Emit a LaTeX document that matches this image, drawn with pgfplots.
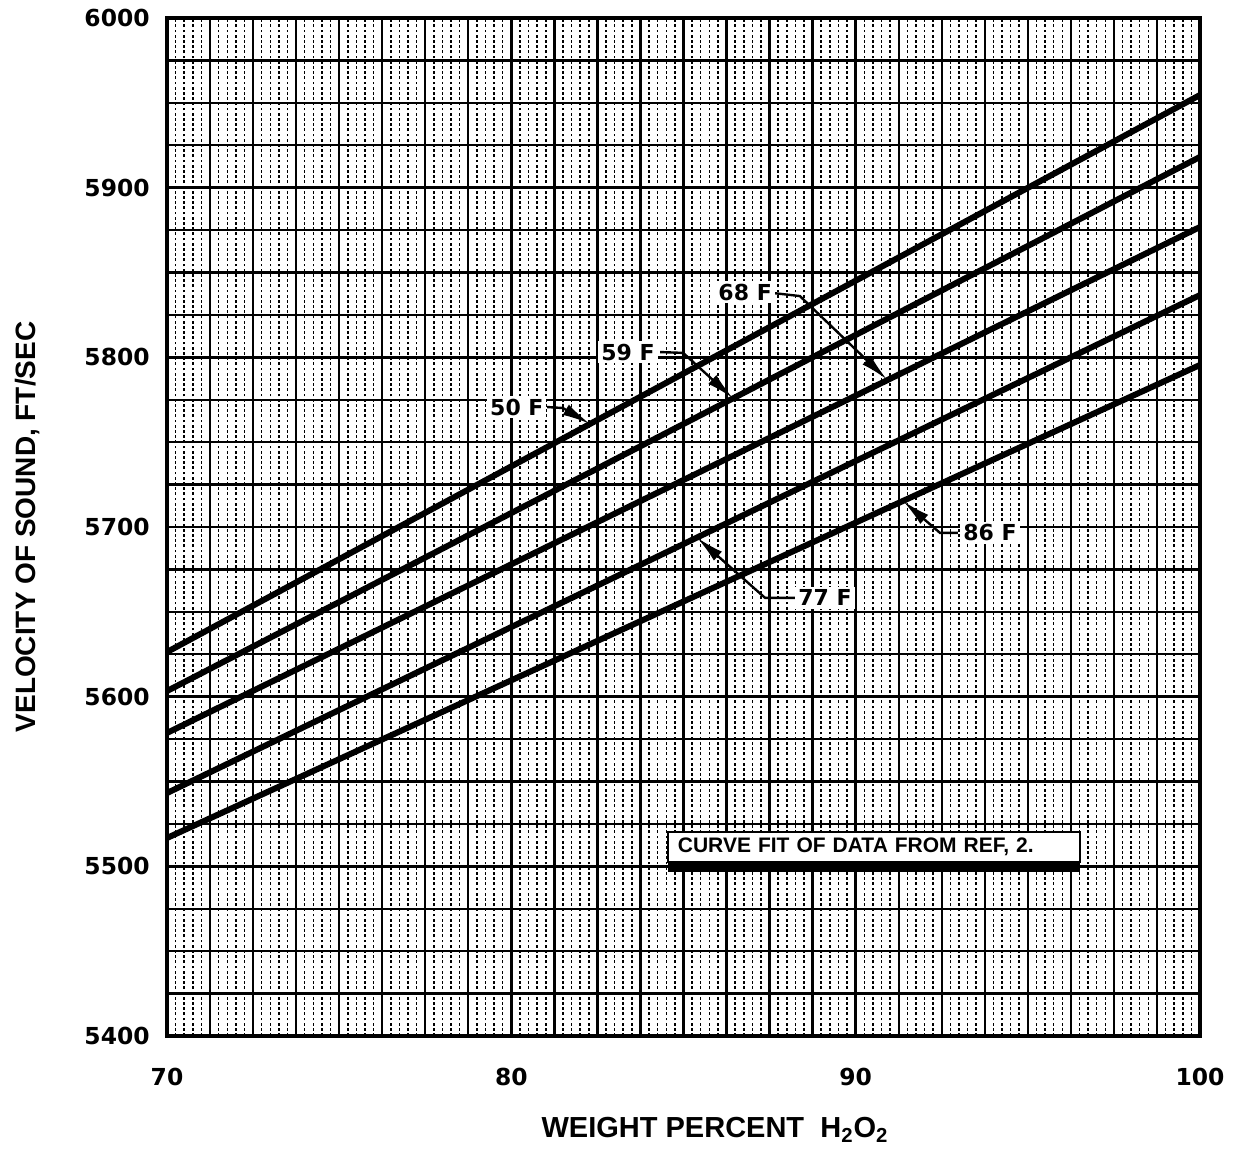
\documentclass[border=0pt]{standalone}
\usepackage{fontspec}
\setmainfont{Liberation Sans}
\newfontfamily\djv{DejaVu Sans}
\usepackage{pgfplots}
\usepackage{pgfplotstable}
\pgfplotsset{compat=1.18}
\usetikzlibrary{arrows.meta,shadows}

\pgfplotstableread{
x    t50    t59    t68    t77    t86
70   5626.3 5603.3 5578.6 5543.2 5516.7
100  5954.6 5918.1 5876.8 5836.7 5795.5
}\velocity

\begin{document}
\begin{tikzpicture}
\begin{axis}[
  name=ax,
  scale only axis,
  width=516.5pt, height=509pt,
  xmin=70, xmax=100, ymin=5400, ymax=6000,
  xtick={70,71.25,72.5,73.75,75,76.25,77.5,78.75,80,81.25,82.5,83.75,85,86.25,87.5,88.75,90,91.25,92.5,93.75,95,96.25,97.5,98.75,100},
  xticklabels={70,,,,,,,,80,,,,,,,,90,,,,,,,,100},
  ytick={5400,5425,5450,5475,5500,5525,5550,5575,5600,5625,5650,5675,5700,5725,5750,5775,5800,5825,5850,5875,5900,5925,5950,5975,6000},
  yticklabels={5400,,,,5500,,,,5600,,,,5700,,,,5800,,,,5900,,,,6000},
  minor x tick num=4,
  grid=both,
  major grid style={black, line width=1.2pt},
  minor grid style={black, line width=0.75pt, dash pattern=on 1.4pt off 1.2pt},
  major tick length=0pt, minor tick length=0pt,
  axis line style={line width=2pt},
  xticklabel style={font=\djv\bfseries\fontsize{11.7}{12}\selectfont, inner sep=0pt, anchor=north, yshift=-16pt},
  yticklabel style={font=\djv\bfseries\fontsize{11.7}{12}\selectfont, inner sep=0pt, anchor=east, xshift=-8.5pt},
  xlabel={WEIGHT PERCENT\ \ H\textsubscript{2}O\textsubscript{2}},
  ylabel={VELOCITY OF SOUND, FT/SEC},
  xlabel style={font=\bfseries\fontsize{14.5}{16}\selectfont, at={(axis description cs:0.5305,-0.0923)}, anchor=center},
  ylabel style={font=\bfseries\fontsize{14}{16}\selectfont, at={(axis description cs:-0.1346,0.5)}, anchor=center, rotate=0},
  clip=false,
]
\addplot[black, line width=3pt] table[x=x, y=t50] {\velocity};
\addplot[black, line width=3pt] table[x=x, y=t59] {\velocity};
\addplot[black, line width=3pt] table[x=x, y=t68] {\velocity};
\addplot[black, line width=3pt] table[x=x, y=t77] {\velocity};
\addplot[black, line width=3pt] table[x=x, y=t86] {\velocity};

% leaders
\tikzset{lead/.style={black, line width=1.2pt, -{Latex[length=14pt,width=6pt]}},
         lab/.style={fill=white, inner sep=1.5pt, font=\djv\bfseries\fontsize{11}{12}\selectfont}}
\draw[lead] (axis cs:87.60,5837.9) -- (axis cs:88.38,5836.1) -- (axis cs:90.91,5786.9);
\draw[lead] (axis cs:84.32,5803.1) -- (axis cs:84.99,5802.6) -- (axis cs:86.44,5775.8);
\draw[lead] (axis cs:81.04,5770.7) -- (axis cs:81.50,5770.1) -- (axis cs:82.285,5760.7);
\draw[lead] (axis cs:88.24,5658.2) -- (axis cs:87.37,5658.2) -- (axis cs:85.39,5693.8);
\draw[lead] (axis cs:92.97,5696.5) -- (axis cs:92.45,5696.5) -- (axis cs:91.375,5715.3);
\node[lab] at (axis cs:86.79,5838.5) {68 F};
\node[lab] at (axis cs:83.39,5803.1) {59 F};
\node[lab] at (axis cs:80.16,5770.7) {50 F};
\node[lab] at (axis cs:89.11,5658.2) {77 F};
\node[lab] at (axis cs:93.90,5696.5) {86 F};

\node[draw=black, line width=1pt, fill=white, inner xsep=5pt, inner ysep=0pt,
      text width=196pt, minimum height=15pt, align=left,
      font=\bfseries\fontsize{10.5}{12}\selectfont,
      drop shadow={opacity=1, fill=black, shadow xshift=0pt, shadow yshift=-5pt}]
  at (axis cs:90.53,5511.4) {CURVE FIT OF DATA FROM REF, 2.};
\end{axis}
\pgfresetboundingbox
\path[use as bounding box] ([shift={(-83.5pt,-61pt)}]ax.south west) rectangle ([shift={(16.5pt,9pt)}]ax.north east);
\end{tikzpicture}
\end{document}
